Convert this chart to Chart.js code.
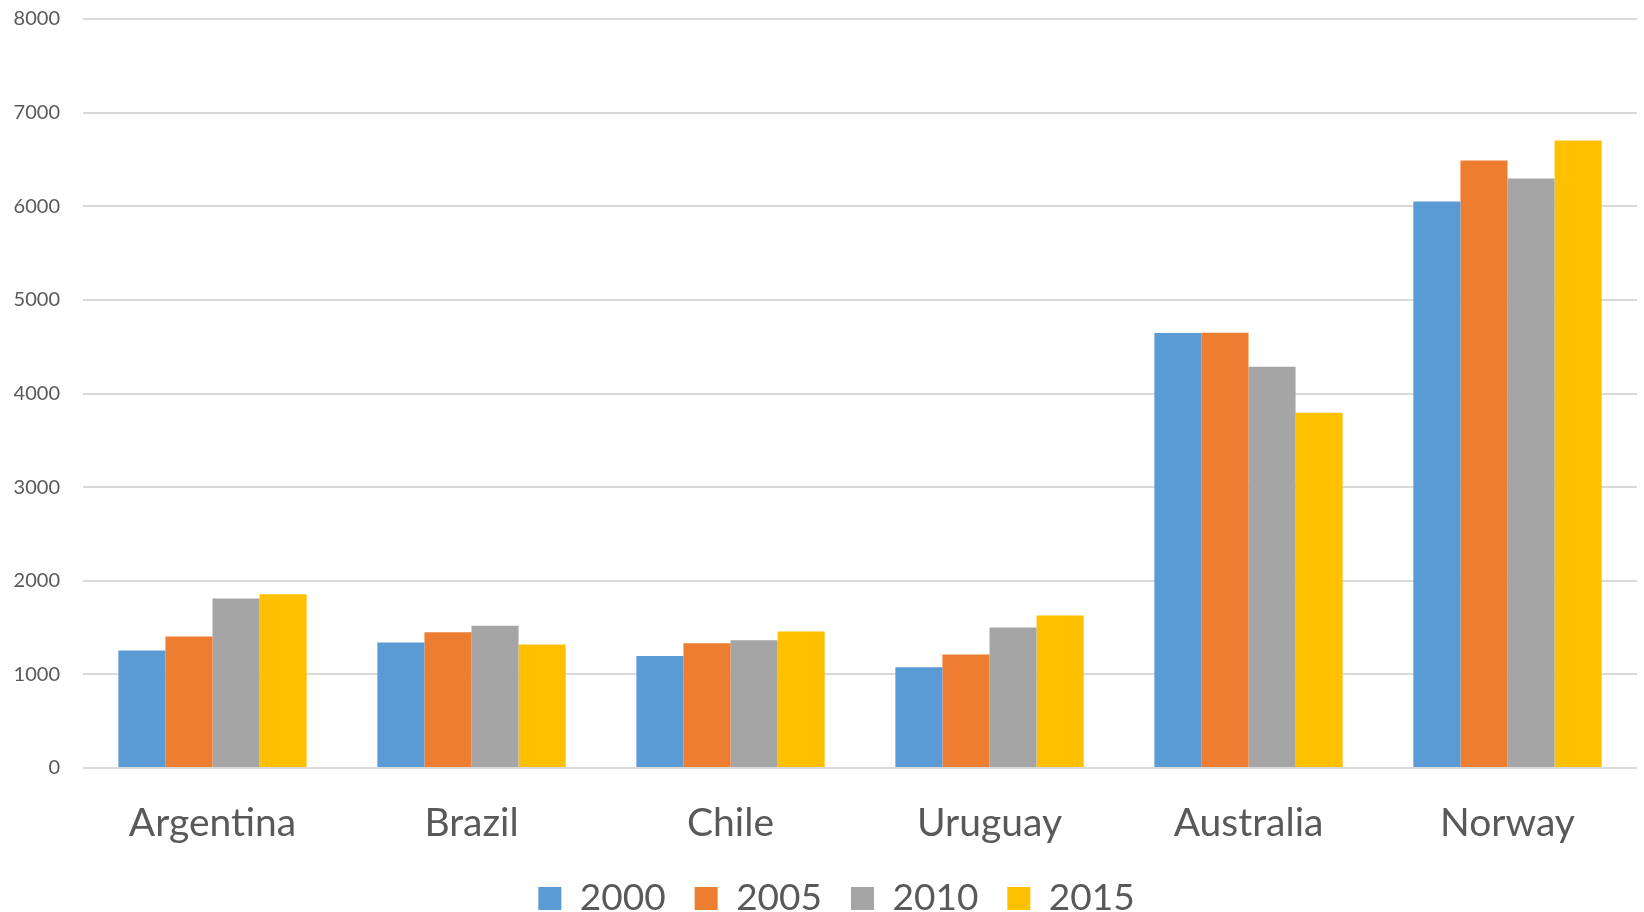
<!DOCTYPE html>
<html>
<head>
<meta charset="utf-8">
<script src="https://cdn.jsdelivr.net/npm/chart.js@4"></script>
<style>
  html, body { margin: 0; padding: 0; background: #fff; }
  #wrap { width: 1644px; height: 912px; }
</style>
</head>
<body>
<div id="wrap"><canvas id="chart" width="1644" height="912"></canvas></div>
<script>
  // chart data
  const countries = ['Argentina', 'Brazil', 'Chile', 'Uruguay', 'Australia', 'Norway'];
  const years = ['2000', '2005', '2010', '2015'];
  const values2000 = [1255, 1340, 1195, 1075, 4645, 6050];
  const values2005 = [1405, 1450, 1332, 1212, 4648, 6488];
  const values2010 = [1810, 1520, 1365, 1502, 4285, 6296];
  const values2015 = [1855, 1320, 1458, 1630, 3795, 6702];
  const yTicks = [0, 1000, 2000, 3000, 4000, 5000, 6000, 7000, 8000];

  const colors = ['#5B9BD5', '#ED7D31', '#A5A5A5', '#FFC000'];
  const seriesValues = [values2000, values2005, values2010, values2015];
  const textColor = '#595959';

  // nudge the legend a little to the right, like the original
  const legendShift = {
      id: 'legendShift',
      afterLayout(chart) {
          if (chart.legend) chart.legend.left += 36;
      }
  };

  const ctx = document.getElementById('chart').getContext('2d');

  const chart = new Chart(ctx, {
      type: 'bar',
      data: {
          labels: countries,
          datasets: years.map((y, i) => ({
              label: y,
              data: seriesValues[i],
              backgroundColor: colors[i],
              borderWidth: 0,
              categoryPercentage: 0.727,
              barPercentage: 1.0
          }))
      },
      plugins: [legendShift],
      options: {
          responsive: false,
          animation: false,
          layout: {
              padding: { top: 19, right: 7, left: 0, bottom: -15 }
          },
          plugins: {
              tooltip: { enabled: false },
              legend: {
                  position: 'bottom',
                  labels: {
                      color: textColor,
                      font: { family: 'Lato', size: 37 },
                      boxWidth: 23,
                      boxHeight: 23,
                      padding: 29
                  }
              }
          },
          scales: {
              x: {
                  grid: { display: false },
                  border: { display: false },
                  ticks: {
                      color: textColor,
                      font: { family: 'Lato', size: 39 },
                      padding: 24,
                      maxRotation: 0
                  },
                  afterFit: function(scale) {
                      scale.height = 83;
                  }
              },
              y: {
                  min: 0,
                  max: 8000,
                  afterBuildTicks: function(scale) {
                      scale.ticks = yTicks.map(v => ({ value: v }));
                  },
                  grid: {
                      color: '#d9d9d9',
                      lineWidth: 2,
                      drawTicks: true,
                      tickLength: 23,
                      tickColor: 'rgba(0,0,0,0)'
                  },
                  border: { display: false },
                  ticks: {
                      color: textColor,
                      font: { family: 'Lato', size: 20 },
                      padding: 0,
                      callback: v => String(v)
                  },
                  afterFit: function(scale) {
                      scale.width = 83;
                  }
              }
          }
      }
  });
</script>
</body>
</html>
